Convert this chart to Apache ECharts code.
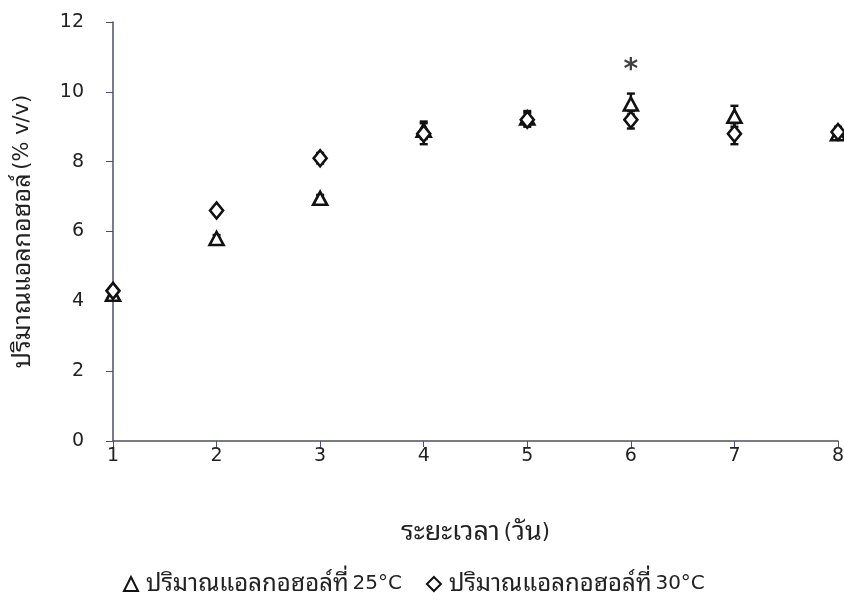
<!DOCTYPE html>
<html>
<head>
<meta charset="utf-8">
<script src="https://cdn.jsdelivr.net/npm/echarts@6/dist/echarts.min.js"></script>
<style>html,body{margin:0;padding:0;background:#fff;}#chart{width:844px;height:600px;}</style>
</head>
<body>
<div id="chart"></div>
<script>
const days = ['1','2','3','4','5','6','7','8'];
const alc25 = [4.2, 5.8, 6.95, 8.9, 9.25, 9.65, 9.3, 8.8];
const alc30 = [4.3, 6.6, 8.1, 8.8, 9.2, 9.2, 8.8, 8.85];
const err25 = [0.12, 0.1, 0.1, 0.25, 0.2, 0.3, 0.3, 0.15];
const err30 = [0.12, 0.1, 0.15, 0.3, 0.2, 0.25, 0.3, 0.15];
const yTicks = [0, 2, 4, 6, 8, 10, 12];
const starDay = ['6'];
const starVal = [10.8];
const legendThai = 'ปริมาณแอลกอฮอล์ที่';
const name25 = 'ปริมาณแอลกอฮอล์ที่ 25°C';
const name30 = 'ปริมาณแอลกอฮอล์ที่ 30°C';
const legendTemps = { [name25]: '25°C', [name30]: '30°C' };

const LAT = '"DejaVu Sans", "Noto Sans Thai Looped", sans-serif';
const THAI = '"Noto Sans Thai Looped", "DejaVu Sans", sans-serif';
const AX = '#4d5068';
const TXT = '#222';
const rich = {
  t: { fontFamily: THAI, fontSize: 24, color: TXT },
  n: { fontFamily: LAT, fontSize: 20, color: TXT }
};
const richY = {
  t: { fontFamily: THAI, fontSize: 25, color: TXT },
  n: { fontFamily: LAT, fontSize: 21, color: TXT }
};
const richX = {
  t: { fontFamily: THAI, fontSize: 27, color: TXT },
  n: { fontFamily: LAT, fontSize: 21, color: TXT }
};

function errData(vals, errs) {
  return vals.map((v, i) => [i, v - errs[i], v + errs[i]]);
}
function errRender(params, api) {
  const x = api.value(0);
  const lo = api.coord([x, api.value(1)]);
  const hi = api.coord([x, api.value(2)]);
  const w = 4;
  const style = { stroke: '#111', lineWidth: 2.4 };
  return {
    type: 'group',
    children: [
      { type: 'line', shape: { x1: lo[0], y1: lo[1], x2: hi[0], y2: hi[1] }, style },
      { type: 'line', shape: { x1: lo[0] - w, y1: lo[1], x2: lo[0] + w, y2: lo[1] }, style },
      { type: 'line', shape: { x1: hi[0] - w, y1: hi[1], x2: hi[0] + w, y2: hi[1] }, style }
    ]
  };
}

const chart = echarts.init(document.getElementById('chart'));
chart.setOption({
  backgroundColor: '#fff',
  animation: false,
  textStyle: { fontFamily: LAT },
  grid: { left: 113, right: 6, top: 22, bottom: 159, containLabel: false, outerBoundsMode: 'none' },
  legend: {
    top: 567, left: 118,
    itemGap: 24, itemWidth: 14, itemHeight: 14,
    formatter: n => '{t|' + legendThai + '} {n|' + legendTemps[n] + '}',
    textStyle: { rich, padding: [0, 0, 0, 3] },
    data: [
      { name: name25, icon: 'triangle' },
      { name: name30, icon: 'diamond' }
    ]
  },
  xAxis: {
    type: 'category', data: days, boundaryGap: false,
    name: '{t|ระยะเวลา} {n|(}{t|วัน}{n|)}', nameLocation: 'middle', nameGap: 78,
    nameTextStyle: { rich: richX },
    axisLine: { lineStyle: { color: AX, width: 1.5 } },
    axisTick: { show: true, length: 6, lineStyle: { color: AX }, alignWithLabel: true },
    axisLabel: { fontSize: 19, color: TXT, margin: 6, fontFamily: LAT },
    splitLine: { show: false }
  },
  yAxis: {
    type: 'value', min: yTicks[0], max: yTicks[yTicks.length - 1], interval: 2,
    name: '{t|ปริมาณแอลกอฮอล์} {n|(% v/v)}', nameLocation: 'middle', nameGap: 78, nameRotate: 90,
    nameTextStyle: { rich: richY },
    axisLine: { show: true, lineStyle: { color: AX, width: 1.5 } },
    axisTick: { show: true, length: 7, lineStyle: { color: AX } },
    axisLabel: { fontSize: 19, color: TXT, margin: 29, fontFamily: LAT },
    splitLine: { show: false }
  },
  series: [
    {
      type: 'custom', name: 'err25', renderItem: errRender,
      data: errData(alc25, err25), z: 1, silent: true
    },
    {
      type: 'custom', name: 'err30', renderItem: errRender,
      data: errData(alc30, err30), z: 1, silent: true
    },
    {
      type: 'scatter', name: name25, data: alc25,
      symbol: 'triangle', symbolSize: [14, 13],
      itemStyle: { color: '#fff', borderColor: '#111', borderWidth: 2.6, opacity: 1 }, z: 3
    },
    {
      type: 'scatter', name: name30, data: alc30,
      symbol: 'diamond', symbolSize: [13, 16],
      itemStyle: { color: '#fff', borderColor: '#111', borderWidth: 2.6, opacity: 1 }, z: 3
    },
    {
      type: 'scatter', name: 'sig', data: starDay.map((d, i) => [d, starVal[i]]),
      symbol: 'circle', symbolSize: 2,
      itemStyle: { color: 'rgba(0,0,0,0)' },
      label: { show: true, formatter: '*', position: 'inside', fontSize: 28, fontWeight: 'bold', color: '#111', offset: [0, 7], fontFamily: LAT },
      z: 4
    }
  ]
});
</script>
</body>
</html>
